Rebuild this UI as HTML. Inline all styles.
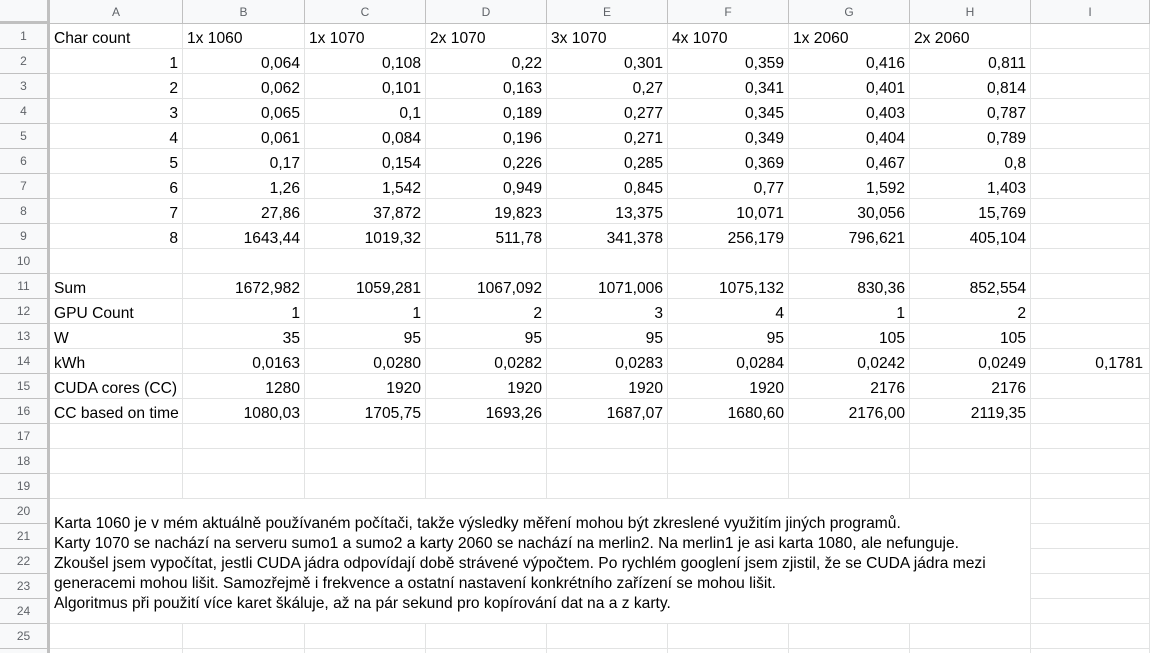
<!DOCTYPE html>
<html><head><meta charset="utf-8">
<style>
html,body{margin:0;padding:0;width:1150px;height:653px;overflow:hidden;background:#fff;font-family:"Liberation Sans",Arial,sans-serif;}
#sheet{position:relative;width:1150px;height:653px;}
.c{position:absolute;box-sizing:border-box;border-right:1px solid #e2e3e3;border-bottom:1px solid #e2e3e3;font-size:15.6px;color:#000;white-space:nowrap;overflow:visible;padding:2px 4px 0 4px;line-height:25px;}
.h{position:absolute;box-sizing:border-box;background:#f8f9fa;border-right:1px solid #c0c0c0;border-bottom:1px solid #c0c0c0;color:#5f6368;font-size:12px;text-align:center;line-height:25px;}
.r{text-align:right;}
#note{position:absolute;left:50px;top:499px;width:981px;height:125px;box-sizing:border-box;border-right:1px solid #e2e3e3;border-bottom:1px solid #e2e3e3;background:#fff;font-size:15.6px;line-height:20px;padding:15px 4px 0 4px;white-space:nowrap;}
</style></head><body>
<div id="sheet"></div>
<script>
const colLetters=["A","B","C","D","E","F","G","H","I"];
const colX=[50,183,305,426,547,668,789,910,1031,1150];
const headerRow=["Char count","1x 1060","1x 1070","2x 1070","3x 1070","4x 1070","1x 2060","2x 2060"];
const rows=[
["1","0,064","0,108","0,22","0,301","0,359","0,416","0,811"],
["2","0,062","0,101","0,163","0,27","0,341","0,401","0,814"],
["3","0,065","0,1","0,189","0,277","0,345","0,403","0,787"],
["4","0,061","0,084","0,196","0,271","0,349","0,404","0,789"],
["5","0,17","0,154","0,226","0,285","0,369","0,467","0,8"],
["6","1,26","1,542","0,949","0,845","0,77","1,592","1,403"],
["7","27,86","37,872","19,823","13,375","10,071","30,056","15,769"],
["8","1643,44","1019,32","511,78","341,378","256,179","796,621","405,104"]
];
const stats=[
["Sum","1672,982","1059,281","1067,092","1071,006","1075,132","830,36","852,554"],
["GPU Count","1","1","2","3","4","1","2"],
["W","35","95","95","95","95","105","105"],
["kWh","0,0163","0,0280","0,0282","0,0283","0,0284","0,0242","0,0249","0,1781"],
["CUDA cores (CC)","1280","1920","1920","1920","1920","2176","2176"],
["CC based on time","1080,03","1705,75","1693,26","1687,07","1680,60","2176,00","2119,35"]
];
const sheet=document.getElementById('sheet');
const RH=25, TOP=24;
function mk(cls,x,y,w,h,txt){const d=document.createElement('div');d.className=cls;d.style.left=x+'px';d.style.top=y+'px';d.style.width=w+'px';d.style.height=h+'px';d.textContent=txt;sheet.appendChild(d);return d;}
let corner=mk('h',0,0,50,TOP,'');
corner.style.borderRight='3px solid #c0c0c0';corner.style.borderBottom='3px solid #c0c0c0';


for(let i=0;i<9;i++){
 const d=mk('h',colX[i],0,colX[i+1]-colX[i],TOP,colLetters[i]);
 
 
}
for(let r=1;r<=26;r++){
 const y=TOP+(r-1)*RH;
 const d=mk('h',0,y,50,RH,String(r));
 d.style.borderRight='3px solid #c0c0c0';
 
 
 for(let c=0;c<9;c++){
  let txt='';
  if(r===1&&c<8)txt=headerRow[c];
  else if(r>=2&&r<=9&&c<8)txt=rows[r-2][c];
  else if(r>=11&&r<=16&&stats[r-11][c]!==undefined)txt=stats[r-11][c];
  let cls='c';
  if(txt!==''&&!(r===1)&&!(r>=11&&c===0))cls+=' r';
  const cell=mk(cls,colX[c],y,colX[c+1]-colX[c],RH,txt);
  if(c===8)cell.style.paddingRight='6px';
  
  
 }
}
const note=document.createElement('div');
note.id='note';
note.innerHTML='Karta 1060 je v mém aktuálně používaném počítači, takže výsledky měření mohou být zkreslené využitím jiných programů.<br>Karty 1070 se nachází na serveru sumo1 a sumo2 a karty 2060 se nachází na merlin2. Na merlin1 je asi karta 1080, ale nefunguje.<br>Zkoušel jsem vypočítat, jestli CUDA jádra odpovídají době strávené výpočtem. Po rychlém googlení jsem zjistil, že se CUDA jádra mezi<br>generacemi mohou lišit. Samozřejmě i frekvence a ostatní nastavení konkrétního zařízení se mohou lišit.<br>Algoritmus při použití více karet škáluje, až na pár sekund pro kopírování dat na a z karty.';


sheet.appendChild(note);
</script>
</body></html>
